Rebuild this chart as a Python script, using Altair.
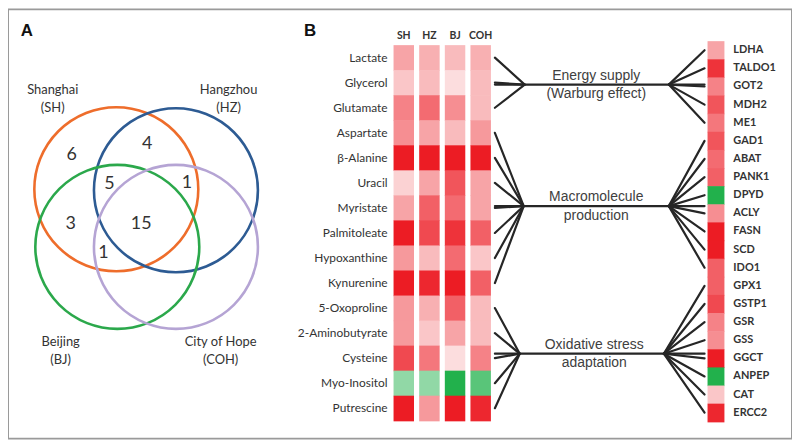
import altair as alt
import pandas as pd

# ---------------- data ----------------
cities = ["SH", "HZ", "BJ", "COH"]
city_names = ["Shanghai", "Hangzhou", "Beijing", "City of Hope"]
circle_colors = ["#ee6d2b", "#2d5b93", "#2ba84b", "#b5a4d4"]

venn_counts = ["6", "4", "5", "1", "3", "15", "1"]

metabolites = ["Lactate", "Glycerol", "Glutamate", "Aspartate", "β-Alanine", "Uracil",
               "Myristate", "Palmitoleate", "Hypoxanthine", "Kynurenine", "5-Oxoproline",
               "2-Aminobutyrate", "Cysteine", "Myo-Inositol", "Putrescine"]
sh_vals  = [0.40, 0.25, 0.55, 0.50, 1.00, 0.20, 0.40, 1.00, 0.45, 1.00, 0.45, 0.45, 0.80, -0.50, 1.00]
hz_vals  = [0.35, 0.30, 0.65, 0.40, 1.00, 0.40, 0.70, 0.80, 0.30, 0.95, 0.35, 0.25, 0.60, -0.50, 0.45]
bj_vals  = [0.30, 0.15, 0.50, 0.30, 1.00, 0.75, 0.65, 0.90, 0.65, 1.00, 0.70, 0.40, 0.15, -1.00, 1.00]
coh_vals = [0.35, 0.30, 0.30, 0.45, 1.00, 0.40, 0.40, 0.70, 0.25, 0.70, 0.30, 0.30, 0.55, -0.75, 0.95]

genes = ["LDHA", "TALDO1", "GOT2", "MDH2", "ME1", "GAD1", "ABAT", "PANK1", "DPYD", "ACLY",
         "FASN", "SCD", "IDO1", "GPX1", "GSTP1", "GSR", "GSS", "GGCT", "ANPEP", "CAT", "ERCC2"]
gene_vals = [0.40, 0.90, 0.55, 0.75, 0.60, 0.75, 0.65, 0.70, -1.00, 0.50,
             1.00, 1.00, 0.70, 0.70, 0.80, 0.55, 0.50, 1.00, -1.00, 0.25, 0.95]

processes = [["Energy supply", "(Warburg effect)"],
             ["Macromolecule", "production"],
             ["Oxidative stress", "adaptation"]]
metab_group_sizes = [3, 7, 5]
gene_group_sizes = [5, 8, 8]

# ---------------- layout (reference pixel units) ----------------
W, H = 789, 432
X0, Y0 = 8, 8
circle_centers = [(117, 189), (177, 190), (118, 247), (177, 247)]
circle_diam = 165
venn_count_pos = [(72, 155), (148, 144), (110, 184), (188, 183), (71, 224), (142, 224), (104, 253)]
venn_label_pos = [(53, 89), (230, 89), (61, 343), (222, 343)]
col_x0, col_pitch, col_w = 396, 25.8, 20.6
left_top, left_h = 44, 25.2
gene_x0, gene_x1 = 712, 729
right_top, right_h = 40, 18.24
spoke_left_x, spoke_right_x = 498, 709
hub_left = [528, 527, 523]
hub_right = [673, 673, 668]
proc_cx = [600, 600, 598]

xs = alt.Scale(domain=[X0, X0 + W], nice=False, zero=False)
ys = alt.Scale(domain=[Y0, Y0 + H], nice=False, zero=False, reverse=True)


def X(f="x"):
    return alt.X(f"{f}:Q", scale=xs, axis=None)


def Y(f="y"):
    return alt.Y(f"{f}:Q", scale=ys, axis=None)


# ---------------- heatmap cells ----------------
cells = []
city_vals = [sh_vals, hz_vals, bj_vals, coh_vals]
for i, m in enumerate(metabolites):
    for j, c in enumerate(cities):
        x = col_x0 + j * col_pitch
        cells.append(dict(x=x, x2=x + col_w, y=left_top + i * left_h,
                          y2=left_top + (i + 1) * left_h + 0.6, v=city_vals[j][i]))
for k, g in enumerate(genes):
    cells.append(dict(x=gene_x0, x2=gene_x1, y=right_top + k * right_h,
                      y2=right_top + (k + 1) * right_h + 0.6, v=gene_vals[k]))
cells = pd.DataFrame(cells)

heat = alt.Chart(cells).mark_rect(strokeWidth=0).encode(
    x=X("x"), x2="x2", y=Y("y"), y2="y2",
    fill=alt.Fill("v:Q", scale=alt.Scale(domain=[-1, 0, 1],
                                         range=["#22b14c", "#ffffff", "#ec1c24"],
                                         interpolate="rgb"), legend=None),
)

# ---------------- connectors ----------------
segs = []
texts_proc = []
mi, gi = 0, 0
for p in range(3):
    lc = [left_top + (mi + r + 0.5) * left_h for r in range(metab_group_sizes[p])]
    rc = [right_top + (gi + r + 0.5) * right_h for r in range(gene_group_sizes[p])]
    hub_y = ((lc[0] + lc[-1]) / 2 + (rc[0] + rc[-1]) / 2) / 2
    segs.append(dict(x=spoke_left_x, y=hub_y, x2=spoke_right_x, y2=hub_y))
    for yy in lc:
        segs.append(dict(x=spoke_left_x, y=yy, x2=hub_left[p], y2=hub_y))
    for yy in rc:
        segs.append(dict(x=hub_right[p], y=hub_y, x2=spoke_right_x, y2=yy))
    texts_proc.append(dict(x=proc_cx[p], y=hub_y - 9, text=processes[p][0]))
    texts_proc.append(dict(x=proc_cx[p], y=hub_y + 9.5, text=processes[p][1]))
    mi += metab_group_sizes[p]
    gi += gene_group_sizes[p]
segs = pd.DataFrame(segs)

rules = alt.Chart(segs).mark_rule(color="#262626", strokeWidth=2.2, strokeCap="round").encode(
    x=X("x"), y=Y("y"), x2="x2", y2="y2")

# ---------------- venn ----------------
circ = pd.DataFrame(dict(x=[c[0] for c in circle_centers], y=[c[1] for c in circle_centers],
                         city=cities))
circles = alt.Chart(circ).mark_point(shape="circle", filled=False, size=circle_diam ** 2,
                                     strokeWidth=2.6, opacity=1).encode(
    x=X("x"), y=Y("y"),
    stroke=alt.Stroke("city:N", scale=alt.Scale(domain=cities, range=circle_colors), legend=None),
)


def text_layer(rows, **kw):
    df = pd.DataFrame(rows)
    return alt.Chart(df).mark_text(**kw).encode(x=X("x"), y=Y("y"), text="text:N")


venn_count_rows = [dict(x=p[0], y=p[1], text=t) for p, t in zip(venn_count_pos, venn_counts)]
venn_label_rows = []
for p, n, c in zip(venn_label_pos, city_names, cities):
    venn_label_rows.append(dict(x=p[0], y=p[1], text=n))
    venn_label_rows.append(dict(x=p[0], y=p[1] + 18, text=f"({c})"))

letters = text_layer([dict(x=27, y=29.5, text="A"), dict(x=312, y=29.5, text="B")],
                     font="Liberation Sans", fontSize=17, fontWeight="bold", color="#111111",
                     align="center", baseline="middle")
t_counts = text_layer(venn_count_rows, font="Lato", fontSize=18, color="#333333",
                      align="center", baseline="middle")
t_vlabels = text_layer(venn_label_rows, font="Lato", fontSize=13, color="#333333",
                       align="center", baseline="middle")
t_heads = text_layer([dict(x=col_x0 + j * col_pitch + col_w / 2, y=35, text=c) for j, c in enumerate(cities)],
                     font="Lato", fontSize=10.5, fontWeight="bold", color="#333333",
                     align="center", baseline="middle")
t_metab = text_layer([dict(x=390, y=left_top + (i + 0.5) * left_h, text=m) for i, m in enumerate(metabolites)],
                     font="Lato", fontSize=12, color="#333333", align="right", baseline="middle")
t_genes = text_layer([dict(x=738, y=right_top + (k + 0.5) * right_h, text=g) for k, g in enumerate(genes)],
                     font="Lato", fontSize=11, fontWeight="bold", color="#333333",
                     align="left", baseline="middle")
t_proc = text_layer(texts_proc, font="Liberation Sans", fontSize=14, color="#404040",
                    align="center", baseline="middle")

chart = alt.layer(
    heat, rules, circles, letters, t_counts, t_vlabels, t_heads, t_metab, t_genes, t_proc
).properties(
    width=W, height=H, padding=0, autosize="none", background="white"
).configure_view(stroke="#9a9a9a", strokeWidth=2)

chart.save("out.html", embed_options={"renderer": "svg", "actions": False})
